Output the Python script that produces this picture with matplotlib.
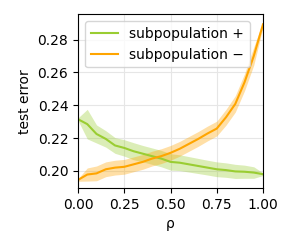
import matplotlib
matplotlib.use("Agg")
import matplotlib.pyplot as plt
import numpy as np

rho = [0.00, 0.05, 0.10, 0.15, 0.20, 0.25, 0.30, 0.35, 0.40, 0.45, 0.50,
       0.55, 0.60, 0.65, 0.70, 0.75, 0.80, 0.85, 0.90, 0.95, 1.00]

pos_mean = [0.2315, 0.2285, 0.2225, 0.2195, 0.2155, 0.2140, 0.2120, 0.2105, 0.2090, 0.2075, 0.2055,
            0.2050, 0.2040, 0.2030, 0.2020, 0.2010, 0.2005, 0.1997, 0.1995, 0.1990, 0.1980]
pos_std = [0.0008, 0.0090, 0.0055, 0.0050, 0.0048, 0.0050, 0.0052, 0.0050, 0.0050, 0.0050, 0.0050,
           0.0048, 0.0047, 0.0046, 0.0045, 0.0045, 0.0044, 0.0043, 0.0040, 0.0035, 0.0008]

neg_mean = [0.1945, 0.1978, 0.1985, 0.2010, 0.2020, 0.2025, 0.2040, 0.2055, 0.2075, 0.2090, 0.2110,
            0.2135, 0.2165, 0.2195, 0.2228, 0.2258, 0.2327, 0.2408, 0.2540, 0.2700, 0.2893]
neg_std = [0.0008, 0.0040, 0.0045, 0.0045, 0.0045, 0.0045, 0.0045, 0.0045, 0.0045, 0.0045, 0.0045,
           0.0045, 0.0045, 0.0045, 0.0045, 0.0045, 0.0048, 0.0050, 0.0052, 0.0055, 0.0018]

labels = ["subpopulation +", "subpopulation \u2212"]
colors = ["yellowgreen", "orange"]

fig = plt.figure(figsize=(2.9, 2.49), dpi=100)
ax = fig.add_axes([0.269, 0.245, 0.638, 0.697])

x = np.array(rho)
for m, s, c, lab in [(pos_mean, pos_std, colors[0], labels[0]),
                     (neg_mean, neg_std, colors[1], labels[1])]:
    m = np.array(m); s = np.array(s)
    ax.fill_between(x, m - s, m + s, color=c, alpha=0.35, linewidth=0)
    ax.plot(x, m, color=c, linewidth=1.5, label=lab)

ax.set_xlim(0, 1)
ax.set_ylim(0.1896, 0.2953)
ax.set_xticks([0.0, 0.25, 0.5, 0.75, 1.0])
ax.set_yticks([0.20, 0.22, 0.24, 0.26, 0.28])
ax.set_xticklabels(["0.00", "0.25", "0.50", "0.75", "1.00"])
ax.set_yticklabels(["0.20", "0.22", "0.24", "0.26", "0.28"])
ax.grid(True, color="#e6e6e6", linewidth=0.8)
ax.set_axisbelow(True)
ax.set_xlabel("\u03c1")
ax.set_ylabel("test error")
ax.legend(loc="upper left")

fig.savefig("out.png", dpi=100)
